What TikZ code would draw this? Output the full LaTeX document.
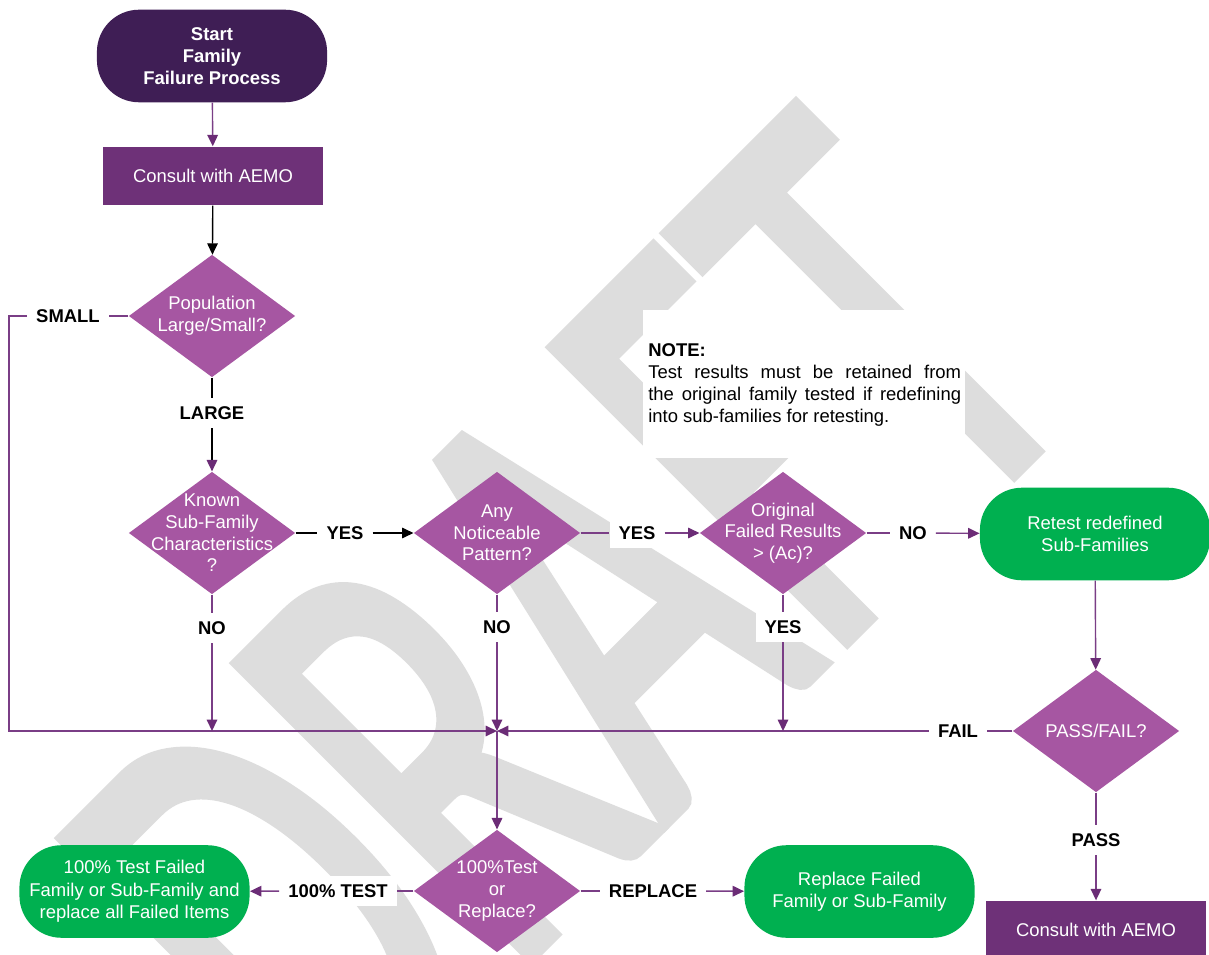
\documentclass[tikz,border=0pt]{standalone}
\usepackage{fontspec}
\setmainfont{Liberation Sans}
\newfontfamily\wmfont[FakeBold=2.2]{Carlito}
\usetikzlibrary{shapes.geometric,arrows.meta,calc}
\definecolor{startP}{HTML}{3F1E55}
\definecolor{boxP}{HTML}{6E3178}
\definecolor{decP}{HTML}{A656A2}
\definecolor{termG}{HTML}{00B050}
\definecolor{lineP}{HTML}{7A3E86}
\definecolor{tipP}{HTML}{6B2C76}
\definecolor{wm}{HTML}{DDDDDD}
\begin{document}
\begin{tikzpicture}[x=0.02cm,y=-0.02cm,
 font=\fontsize{10.5}{12.7}\selectfont,
 term/.style={rectangle, rounded corners=24pt, minimum width=131pt, minimum height=52.7pt, text=white, align=center, inner sep=0pt},
 startnode/.style={term, fill=startP, font=\fontsize{10.5}{12.7}\selectfont\bfseries},
 gterm/.style={term, fill=termG},
 boxnode/.style={rectangle, fill=boxP, minimum width=124.7pt, minimum height=33.4pt, text=white, inner sep=0pt},
 dec/.style={diamond, fill=decP, minimum width=94.7pt, minimum height=69.7pt, inner sep=0pt},
 dtext/.style={text=white, align=center, inner sep=0pt, font=\fontsize{10.5}{12.3}\selectfont},
 lbl/.style={fill=white, font=\fontsize{10.5}{12.7}\selectfont\bfseries, inner xsep=5pt, inner ysep=0pt, minimum height=17pt},
 ln/.style={draw=lineP, line width=0.8pt},
 arr/.style={ln, -{Triangle[length=6.5pt,width=6pt,color=tipP]}},
 bln/.style={draw=black, line width=0.8pt},
 barr/.style={bln, -{Triangle[length=6.5pt,width=6pt,color=black]}},
]
\useasboundingbox (0,0) rectangle (1209,955);
\fill[white] (0,0) rectangle (1209,955);
% watermark
\node[rotate=45, xscale=0.62, anchor=base east, text=wm, inner sep=0pt, font=\wmfont\fontsize{367}{367}\selectfont] (wmark) at (1094,393) {DRAFT};
\fill[white] (643,310) rectangle (965,458);
\node[anchor=north west, align=left, inner sep=0pt, font=\fontsize{10.5}{12.5}\selectfont] (note) at (648,343)
 {\textbf{NOTE:}\\ \makebox[178pt][s]{Test results must be retained from}\\ \makebox[178pt][s]{the original family tested if redefining}\\ into sub-families for retesting.};

% nodes
\node[startnode] (start) at (212,56) {Start\\Family\\Failure Process};
\node[boxnode] (c1) at (213,176) {Consult with AEMO};
\node[dec, label={[dtext]center:Population\\Large/Small?}] (pop) at (212,316) {};
\node[lbl] (large) at (212,413) {LARGE};
\node[lbl] (small) at (68,316) {SMALL};
\node[dec, label={[dtext]center:Known\\Sub-Family\\Characteristics\\?}] (known) at (212,533) {};
\node[lbl] (yes1) at (345,533) {YES};
\node[dec, label={[dtext]center:Any\\Noticeable\\Pattern?}] (any) at (497,533) {};
\node[lbl] (yes2) at (637,533) {YES};
\node[dec, label={[dtext]center:Original\\Failed Results\\> (Ac)?}] (orig) at (783,533) {};
\node[lbl] (no3) at (913,533) {NO};
\node[gterm] (retest) at (1095,534) {Retest redefined\\Sub-Families};
\node[dec, label={[dtext]center:PASS/FAIL?}] (pf) at (1096,731) {};
\node[lbl] (fail) at (958,731) {FAIL};
\node[lbl] (pass) at (1096,840) {PASS};
\node[boxnode] (c2) at (1096,930) {Consult with AEMO};
\node[lbl] (no1) at (212,628) {NO};
\node[lbl] (no2) at (497,627) {NO};
\node[lbl] (yes3) at (783,627) {YES};
\coordinate (J) at (497,731);
\coordinate (lc) at (9,731);
\node[dec, label={[dtext]center:100\%Test\\or\\Replace?}] (d100) at (497,891) {};
\node[lbl] (test) at (338,891) {100\% TEST};
\node[gterm] (g100) at (134.5,891.5) {100\% Test Failed\\Family or Sub-Family and\\replace all Failed Items};
\node[lbl] (repl) at (653,891) {REPLACE};
\node[gterm] (grep) at (859.5,891.5) {Replace Failed\\Family or Sub-Family};

% connectors
\draw[arr] (start) -- (c1);
\draw[barr] (c1) -- (pop);
\draw[bln] (pop) -- (large);
\draw[bln, -{Triangle[length=6.5pt,width=6pt,color=tipP]}] (large) -- (known);
\draw[ln] (pop) -- (small);
\draw[arr] (small.west) -| (lc) -- (J);
\draw[bln] (known) -- (yes1);
\draw[barr] (yes1) -- (any);
\draw[ln] (any) -- (yes2);
\draw[arr] (yes2) -- (orig);
\draw[ln] (orig) -- (no3);
\draw[arr] (no3) -- (retest);
\draw[arr] (retest) -- (pf);
\draw[ln] (pf) -- (fail);
\draw[arr] (fail) -- (J);
\draw[ln] (pf) -- (pass);
\draw[arr] (pass) -- (c2);
\draw[ln] (known) -- (no1);
\draw[arr] (no1) -- (no1 |- J);
\draw[ln] (any) -- (no2);
\draw[arr] (no2) -- (J);
\draw[ln] (orig) -- (yes3);
\draw[arr] (yes3) -- (yes3 |- J);
\draw[arr] (J) -- (d100);
\draw[ln] (d100) -- (test);
\draw[arr] (test) -- (g100);
\draw[ln] (d100) -- (repl);
\draw[arr] (repl) -- (grep);
\end{tikzpicture}
\end{document}
